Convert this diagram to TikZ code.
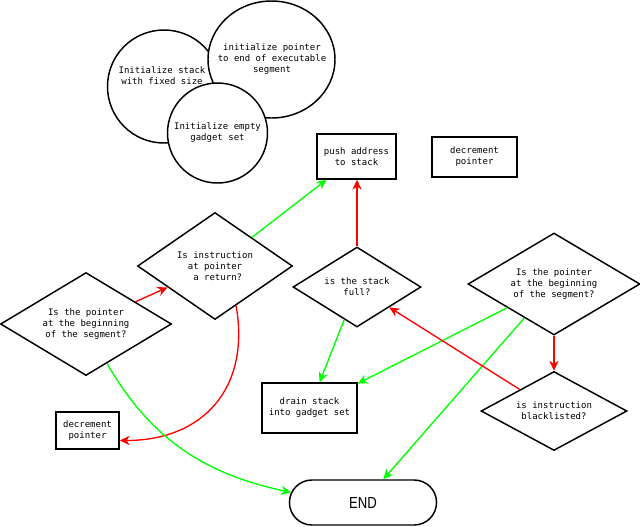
\documentclass[tikz,border=0pt]{standalone}
\usepackage{fontspec}
\setmonofont{DejaVu Sans Mono}
\newfontfamily\endfont[FakeStretch=0.82]{Liberation Sans}
\usetikzlibrary{shapes.geometric,shapes.misc,arrows.meta}
\definecolor{lgreen}{HTML}{00FF00}
\definecolor{lred}{HTML}{FF0000}
\tikzset{
  base/.style={draw=black, line width=1.1pt, fill=white, inner sep=0pt,
    font=\ttfamily\fontsize{6.75pt}{8.25pt}\selectfont, align=center},
  dia/.style={base, diamond},
  box/.style={base, rectangle},
  circ/.style={base, circle},
  ell/.style={base, ellipse},
  lbl/.style={inner sep=0pt, font=\ttfamily\fontsize{6.75pt}{8.25pt}\selectfont, align=center},
  term/.style={draw=black, line width=1.1pt, fill=white, rounded rectangle,
    minimum width=117pt, minimum height=33.75pt, font=\endfont\fontsize{12pt}{14pt}\selectfont},
  conn/.style={line width=1pt, -{Stealth[length=7.5pt,width=7pt,inset=2.4pt]}},
  gconn/.style={conn, draw=lgreen},
  rconn/.style={conn, draw=lred}
}
\begin{document}
\begin{tikzpicture}[x=0.75pt,y=-0.75pt]
\useasboundingbox (0,0) rectangle (640,526);
% circles
\node[circ, minimum size=84.75pt] (ia) at (164,86.5) {};
\node[lbl] (iat) at (162,76) {Initialize stack\\with fixed size};
\node[ell, minimum width=95.25pt, minimum height=87.75pt] (ib) at (271.5,59.5) {};
\node[lbl] (ibt) at (272,59) {initialize pointer\\to end of executable\\segment};
\node[circ, minimum size=75pt] (ic) at (217.5,133) {};
\node[lbl] (ict) at (217.5,133) {Initialize empty\\gadget set};
% boxes
\node[box, minimum width=59.25pt, minimum height=33.75pt] (push) at (356.5,156.5) {push address\\to stack};
\node[box, minimum width=63.75pt, minimum height=30pt] (dect) at (474.5,157) {decrement\\pointer};
\node[box, minimum width=71.25pt, minimum height=37.5pt] (drain) at (309.5,408) {drain stack\\into gadget set};
\node[box, minimum width=47.25pt, minimum height=27.75pt] (decb) at (87.5,430.5) {decrement\\pointer};
% diamonds
\node[dia, shape aspect=1.66, minimum width=128.25pt, minimum height=77.25pt] (d1) at (86,324) {Is the pointer\\at the beginning\\of the segment?};
\node[dia, shape aspect=1.45, minimum width=116.25pt, minimum height=80.25pt] (d2) at (215,266) {Is instruction\\at pointer\\\ a return?};
\node[dia, shape aspect=1.6, minimum width=96pt, minimum height=60pt] (d3) at (357,287) {is the stack\\full?};
\node[dia, shape aspect=1.69, minimum width=129pt, minimum height=76.5pt] (d4) at (554,284) {Is the pointer\\at the beginning\\of the segment?};
\node[dia, shape aspect=1.85, minimum width=109.5pt, minimum height=59.25pt] (d5) at (554,411) {is instruction\\blacklisted?};
% terminal
\node[term] (end) at (363,502.5) {END};
% connectors
\draw[rconn] (d1) -- (d2);
\draw[gconn] (d2) -- (push);
\draw[rconn] (d2.-62) to[out=-80,in=0,looseness=1.2] ([yshift=-7.5pt]decb.east);
\draw[gconn] (d1.-62) to[out=-60,in=168] (end.172);
\draw[rconn] (d3.north) -- (d3.north |- push.south);
\draw[gconn] (d3) -- (drain);
\draw[gconn] (d4) -- (drain);
\draw[gconn] (d4) -- (end);
\draw[rconn] (d4) -- (d5);
\draw[rconn] (d5) -- (d3);
\end{tikzpicture}
\end{document}
